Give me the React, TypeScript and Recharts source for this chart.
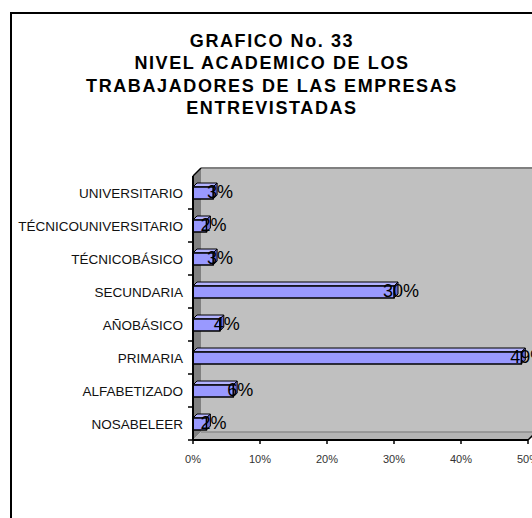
import { BarChart, Bar, XAxis, YAxis, LabelList } from 'recharts';

const categories = [
  'UNIVERSITARIO',
  'TÉCNICOUNIVERSITARIO',
  'TÉCNICOBÁSICO',
  'SECUNDARIA',
  'AÑOBÁSICO',
  'PRIMARIA',
  'ALFABETIZADO',
  'NOSABELEER',
];
const percentages = [3, 2, 3, 30, 4, 49, 6, 2];
const xTicks = [0, 10, 20, 30, 40, 50];
const titleLines = [
  'GRAFICO No. 33',
  'NIVEL ACADEMICO DE LOS',
  'TRABAJADORES DE LAS EMPRESAS',
  'ENTREVISTADAS',
];

const chartData = categories.map((name, i) => ({ name, value: percentages[i] }));

// plot geometry (matches margins below)
const W = 532;
const H = 518;
const LEFT = 193;
const TOP = 176;
const RIGHT = 528;
const BOTTOM = 440;
const DEPTH = 8;
const BAND = (BOTTOM - TOP) / categories.length;
const BAR_DEPTH = 4;
const FONT = "Arial, 'Liberation Sans', sans-serif";

function Bar3D(props: any) {
  const { x, y, width, height } = props;
  if (width == null || width <= 0) return null;
  const d = BAR_DEPTH;
  return (
    <g stroke="#000" strokeWidth={1}>
      <polygon
        points={`${x},${y} ${x + d},${y - d} ${x + width + d},${y - d} ${x + width},${y}`}
        fill="#b3b3ff"
      />
      <polygon
        points={`${x + width},${y} ${x + width + d},${y - d} ${x + width + d},${y + height - d} ${x + width},${y + height}`}
        fill="#6b6bcc"
      />
      <rect x={x} y={y} width={width} height={height} fill="#9999ff" strokeWidth={1.5} />
    </g>
  );
}

function ValueLabel(props: any) {
  const { x, y, width, height, value } = props;
  return (
    <text
      x={x + width + 7}
      y={y + height / 2 + 5}
      textAnchor="middle"
      fontFamily={FONT}
      fontSize={18}
      fill="#000"
    >
      {`${value}%`}
    </text>
  );
}

function CategoryTick(props: any) {
  const { y, payload } = props;
  return (
    <g>
      <text x={LEFT - 10} y={y + 5} textAnchor="end" fontFamily={FONT} fontSize={13.5} fill="#111">
        {payload.value}
      </text>
      <line x1={LEFT - 5} x2={LEFT} y1={y + BAND / 2} y2={y + BAND / 2} stroke="#000" strokeWidth={1.5} />
    </g>
  );
}

function PercentTick(props: any) {
  const { x, payload } = props;
  return (
    <text x={x} y={BOTTOM + 23} textAnchor="middle" fontFamily={FONT} fontSize={11} fill="#333">
      {`${payload.value}%`}
    </text>
  );
}

export default function App() {
  return (
    <div style={{ position: 'relative', width: W, height: H, overflow: 'hidden', background: '#fff' }}>
      <style>{`body{margin:0;overflow:hidden;}`}</style>

      {/* outer frame */}
      <div
        style={{
          position: 'absolute',
          left: 10,
          top: 12,
          width: 540,
          height: 540,
          border: '2px solid #000',
          boxSizing: 'border-box',
        }}
      />

      {/* title */}
      <div
        style={{
          position: 'absolute',
          left: 10,
          top: 30,
          width: 524,
          textAlign: 'center',
          fontFamily: FONT,
          fontWeight: 'bold',
          fontSize: 18,
          lineHeight: '22.3px',
          letterSpacing: 1.6,
          color: '#000',
        }}
      >
        {titleLines.map((t) => (
          <div key={t}>{t}</div>
        ))}
      </div>

      {/* 3D walls */}
      <svg width={W} height={H} style={{ position: 'absolute', left: 0, top: 0 }}>
        <rect x={LEFT + DEPTH} y={TOP - DEPTH} width={W} height={BOTTOM - TOP} fill="#c0c0c0" />
        <line x1={LEFT + DEPTH} x2={W} y1={TOP - DEPTH} y2={TOP - DEPTH} stroke="#808080" strokeWidth={2} />
        <polygon
          points={`${LEFT},${TOP} ${LEFT + DEPTH},${TOP - DEPTH} ${LEFT + DEPTH},${BOTTOM - DEPTH} ${LEFT},${BOTTOM}`}
          fill="#808080"
        />
        <polygon
          points={`${LEFT},${BOTTOM} ${LEFT + DEPTH},${BOTTOM - DEPTH} ${W + 10},${BOTTOM - DEPTH} ${RIGHT},${BOTTOM}`}
          fill="#b4b4b4"
        />
        <line x1={LEFT + DEPTH} x2={W} y1={BOTTOM - DEPTH} y2={BOTTOM - DEPTH} stroke="#8c8c8c" strokeWidth={1.5} />
        <line x1={LEFT} y1={TOP} x2={LEFT + DEPTH} y2={TOP - DEPTH} stroke="#000" strokeWidth={1.5} />
        <line x1={RIGHT} y1={BOTTOM} x2={RIGHT + DEPTH} y2={BOTTOM - DEPTH} stroke="#000" strokeWidth={1.5} />
      </svg>

      <div style={{ position: 'absolute', left: 0, top: 0 }}>
        <BarChart
          width={W}
          height={H}
          data={chartData}
          layout="vertical"
          margin={{ top: TOP, right: W - RIGHT, bottom: H - BOTTOM - 30, left: 0 }}
          barCategoryGap={0}
        >
          <XAxis
            type="number"
            domain={[0, 50]}
            ticks={xTicks}
            interval={0}
            height={30}
            axisLine={{ stroke: '#000', strokeWidth: 2 }}
            tickLine={{ stroke: '#000', strokeWidth: 1.5 }}
            tickSize={4}
            tick={<PercentTick />}
          />
          <YAxis
            type="category"
            dataKey="name"
            width={LEFT}
            interval={0}
            axisLine={{ stroke: '#000', strokeWidth: 2 }}
            tickLine={false}
            tick={<CategoryTick />}
          />
          <Bar dataKey="value" barSize={12} shape={<Bar3D />} isAnimationActive={false}>
            <LabelList dataKey="value" content={<ValueLabel />} />
          </Bar>
        </BarChart>
      </div>
    </div>
  );
}
